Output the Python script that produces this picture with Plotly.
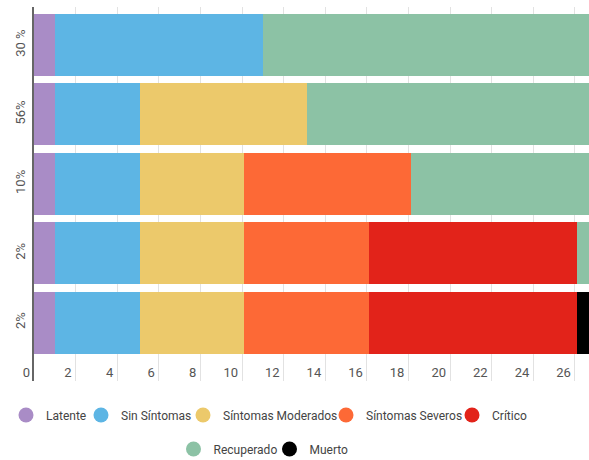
import plotly.graph_objects as go

rows = ["30 %", "56%", "10%", "2%", "2%"]  # top to bottom
latente = [1, 1, 1, 1, 1]
sin_sintomas = [10, 4.1, 4.1, 4.1, 4.1]
moderados = [0, 8, 5, 5, 5]
severos = [0, 0, 8, 6, 6]
critico = [0, 0, 0, 10, 10]
recuperado = [16, 14, 9, 1, 0]
muerto = [0, 0, 0, 0, 1]

names = ["Latente", "Sin Síntomas", "Síntomas Moderados", "Síntomas Severos",
         "Crítico", "Recuperado", "Muerto"]
values = [latente, sin_sintomas, moderados, severos, critico, recuperado, muerto]
colors = ["#a98cc6", "#5db5e4", "#ecc96b", "#fd6936", "#e2231a", "#8cc2a5", "#000000"]

# legend entry layout (symbol centre in px, row centre in px)
leg_x = [28, 103, 205, 348, 474, 195.5, 291.5]
leg_y = [415, 415, 415, 415, 415, 449, 449]

W, H = 589, 460
ML, MR, MT, MB = 34, 0, 7, 79
PW, PH = W - ML - MR, H - MT - MB

n = len(rows)
ypos = [n - 1 - i for i in range(n)]

fig = go.Figure()
for name, vals, color in zip(names, values, colors):
    fig.add_trace(go.Bar(
        x=vals, y=ypos, orientation="h", name=name,
        marker=dict(color=color, line=dict(width=0)),
        width=0.895, showlegend=False, hoverinfo="skip",
    ))

legends = {}
for i, (name, color) in enumerate(zip(names, colors)):
    key = "legend" if i == 0 else f"legend{i+1}"
    fig.add_trace(go.Scatter(
        x=[None], y=[None], mode="markers", name=name,
        marker=dict(color=color, size=15, symbol="circle"),
        legend=key, showlegend=True,
    ))
    legends[key] = dict(
        orientation="h", xanchor="left", yanchor="middle",
        x=(leg_x[i] - 22 - ML) / PW, y=(MT + PH - leg_y[i]) / PH,
        font=dict(size=12, color="#444444"), itemclick=False,
        bgcolor="rgba(0,0,0,0)",
    )

fig.update_layout(
    barmode="stack",
    width=W, height=H,
    margin=dict(l=ML, r=MR, t=MT, b=MB, autoexpand=False),
    paper_bgcolor="white", plot_bgcolor="white",
    font=dict(family="Roboto", size=13, color="#555555"),
    **legends,
)
fig.update_xaxes(
    range=[0, 26.68], tick0=0, dtick=2, showgrid=True, gridcolor="#e2e2e2", gridwidth=1,
    zeroline=False, showline=False, ticks="",
    ticklabelposition="inside left", ticklabeloverflow="allow",
    ticklabelshift=-4, ticklabelstandoff=-5,
    tickfont=dict(size=13, color="#555555"),
)
fig.update_yaxes(
    range=[-0.841, 4.548], tickvals=ypos, ticktext=rows, tickangle=-90,
    showgrid=False, zeroline=False, showline=True, linecolor="#666666", linewidth=2,
    ticks="", ticklabelstandoff=2, tickfont=dict(size=13, color="#555555"),
)

fig.write_html("out.html")
